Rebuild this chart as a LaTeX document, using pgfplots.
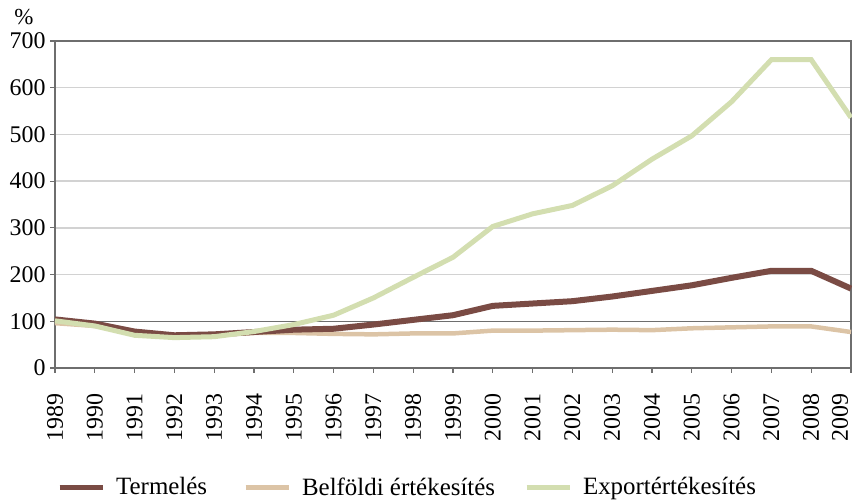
\documentclass[border=0pt]{standalone}
\usepackage{pgfplots}
\pgfplotsset{compat=1.18}
\usepackage{pgfplotstable}
\usepackage{fontspec}
\setmainfont{Liberation Serif}
\definecolor{cT}{RGB}{122,75,68}
\definecolor{cB}{RGB}{220,196,166}
\definecolor{cE}{RGB}{211,222,176}
\definecolor{axc}{RGB}{110,110,110}
\definecolor{gridc}{RGB}{210,210,210}
\newcommand\lbl[1]{#1\rule{17bp}{0pt}}
\pgfplotstableread{
year T B E
1989 104 96 101
1990 95 90 90
1991 78 73 70
1992 70 68 65
1993 72 70 67
1994 77 75 78
1995 82 75 93
1996 84 73 113
1997 93 72 150
1998 103 74 194
1999 113 74 237
2000 133 80 303
2001 138 80 330
2002 143 81 348
2003 153 82 390
2004 165 81 447
2005 177 85 497
2006 193 87 570
2007 208 89 660
2008 208 89 660
2009 170 77 536
}\data
\begin{document}
\begin{tikzpicture}
\begin{axis}[
  name=ax,
  scale only axis,
  width=796bp, height=327bp,
  xmin=1989, xmax=2009,
  ymin=0, ymax=700,
  xtick={1989,...,2009},
  ytick={0,200,300,...,700},
  xticklabels={\lbl{1989},\lbl{1990},\lbl{1991},\lbl{1992},\lbl{1993},\lbl{1994},\lbl{1995},\lbl{1996},\lbl{1997},\lbl{1998},\lbl{1999},\lbl{2000},\lbl{2001},\lbl{2002},\lbl{2003},\lbl{2004},\lbl{2005},\lbl{2006},\lbl{2007},\lbl{2008},\lbl{\smash{\raisebox{3bp}{2009}}}},
  xticklabel style={rotate=90, anchor=east},
  yticklabel shift=1bp,
  /pgf/number format/assume math mode=true,
  tick label style={font=\fontsize{24}{28}\selectfont},
  tick align=outside,
  major tick length=5bp,
  tick style={axc, line width=1.2bp},
  xtick pos=bottom, ytick pos=left,
  axis line style={axc, line width=1.5bp},
  ymajorgrids,
  grid style={gridc, line width=1.5bp},
  extra y ticks={100},
  extra y tick style={grid style={axc, line width=1.5bp}},
  legend columns=3,
  legend style={at={(rel axis cs:0,-0.364)}, anchor=west, xshift=2bp, draw=none, inner sep=0pt,
    font=\fontsize{25}{29}\selectfont,
    /tikz/every odd column/.append style={column sep=9bp},
    /tikz/column 2/.style={column sep=34bp},
    /tikz/column 4/.style={column sep=27bp}},
  legend cell align=left,
  clip=false,
]
\addplot[cB, line width=4.5bp, forget plot] table[x=year, y=B] {\data};
\addplot[cT, line width=6bp, forget plot] table[x=year, y=T] {\data};
\addplot[cE, line width=5bp, forget plot] table[x=year, y=E] {\data};
\addlegendimage{legend image code/.code={\draw[cT, line width=5bp] (0bp,0bp) -- (43bp,0bp);}}
\addlegendentry{Termelés}
\addlegendimage{legend image code/.code={\draw[cB, line width=5bp] (0bp,0bp) -- (43bp,0bp);}}
\addlegendentry{Belföldi értékesítés}
\addlegendimage{legend image code/.code={\draw[cE, line width=5bp] (0bp,0bp) -- (43bp,0bp);}}
\addlegendentry{Exportértékesítés}
\node[font=\fontsize{23}{27}\selectfont] at (rel axis cs:0,1) [xshift=-31bp, yshift=24bp] {\%};
\end{axis}
\path (ax.south west) ++(-55bp,-133bp) coordinate (bbA);
\path (ax.north east) ++(1bp,41bp) coordinate (bbB);
\pgfresetboundingbox
\useasboundingbox (bbA) rectangle (bbB);
\end{tikzpicture}
\end{document}
